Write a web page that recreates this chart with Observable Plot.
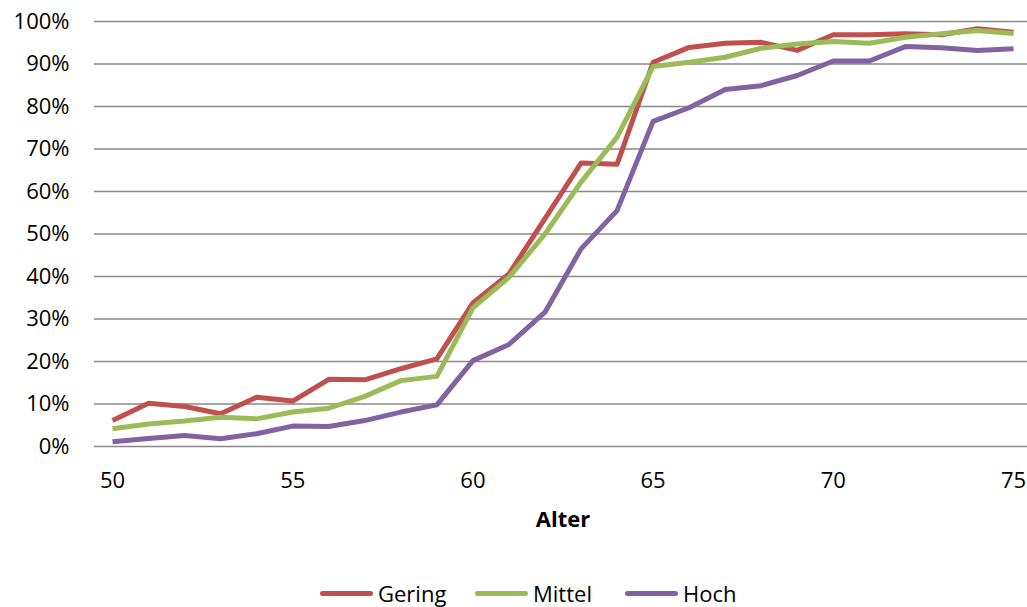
<!DOCTYPE html>
<html>
<head>
<meta charset="utf-8">
<script src="https://cdn.jsdelivr.net/npm/d3@7"></script>
<script src="https://cdn.jsdelivr.net/npm/@observablehq/plot@0.6"></script>
<style>
  html, body { margin: 0; padding: 0; background: #fff; }
  body { width: 1027px; height: 607px; position: relative; overflow: hidden; font-family: "Open Sans", sans-serif; }
  #legend { position: absolute; top: 0; left: 0; width: 1027px; height: 607px; pointer-events: none; }
  .item { position: absolute; top: 578px; height: 30px; display: flex; align-items: center; font-size: 22px; color: #000; }
  .swatch { width: 53px; height: 5px; border-radius: 3px; margin-right: 5px; }
</style>
</head>
<body>
<div id="chart"></div>
<div id="legend"></div>
<script>
const ages = [50,51,52,53,54,55,56,57,58,59,60,61,62,63,64,65,66,67,68,69,70,71,72,73,74,75];
const gering = [6.1,10.2,9.4,7.7,11.6,10.7,15.8,15.7,18.3,20.6,33.8,40.6,53.6,66.7,66.4,90.4,93.9,94.9,95.1,93.2,96.9,96.9,97.1,96.9,98.3,97.5];
const mittel = [4.2,5.3,6.0,6.9,6.5,8.1,9.0,11.8,15.5,16.5,32.6,39.8,50.0,62.2,72.8,89.4,90.4,91.6,93.7,94.7,95.3,94.9,96.3,97.1,97.9,97.2];
const hoch = [1.1,1.9,2.6,1.8,3.0,4.8,4.7,6.1,8.1,9.8,20.2,24.0,31.6,46.5,55.5,76.5,79.7,84.0,84.9,87.3,90.7,90.7,94.1,93.8,93.2,93.6];
const seriesNames = ["Gering", "Mittel", "Hoch"];
const seriesColors = ["#C0504D", "#9BBB59", "#8064A2"];
const xTicks = [50,55,60,65,70,75];
const yTicks = [0,10,20,30,40,50,60,70,80,90,100];
const xLabel = "Alter";

const seriesValues = [gering, mittel, hoch];
const rows = [];
seriesNames.forEach((name, i) => {
  ages.forEach((a, j) => rows.push({series: name, alter: a, value: seriesValues[i][j]}));
});

const chart = Plot.plot({
  width: 1027,
  height: 550,
  marginTop: 21,
  marginBottom: 104,
  marginLeft: 94,
  marginRight: -4,
  style: {fontFamily: "'Open Sans', sans-serif", fontSize: "22px", color: "#000", background: "#fff"},
  x: {domain: [49.5, 75.5]},
  y: {domain: [0, 100]},
  color: {domain: seriesNames, range: seriesColors},
  marks: [
    Plot.gridY(yTicks, {stroke: "#888", strokeOpacity: 1, strokeWidth: 1.6}),
    Plot.axisY(yTicks, {tickSize: 0, tickPadding: 25, tickFormat: d => d + "%", label: null, fontSize: 22}),
    Plot.axisX(xTicks, {tickSize: 0, tickPadding: 26, tickFormat: d => String(d), label: null, fontSize: 22}),
    Plot.lineY(rows, {x: "alter", y: "value", z: "series", stroke: "series", strokeWidth: 5, strokeLinejoin: "round", strokeLinecap: "butt"}),
    Plot.text([xLabel], {frameAnchor: "bottom", dy: 80, fontWeight: "bold", fontSize: 22, fill: "#000"})
  ]
});
document.getElementById("chart").appendChild(chart);

const legendX = [320, 475, 625];
const legend = document.getElementById("legend");
seriesNames.forEach((name, i) => {
  const it = document.createElement("div");
  it.className = "item";
  it.style.left = legendX[i] + "px";
  const sw = document.createElement("span");
  sw.className = "swatch";
  sw.style.background = seriesColors[i];
  const tx = document.createElement("span");
  tx.textContent = name;
  it.appendChild(sw);
  it.appendChild(tx);
  legend.appendChild(it);
});
</script>
</body>
</html>
